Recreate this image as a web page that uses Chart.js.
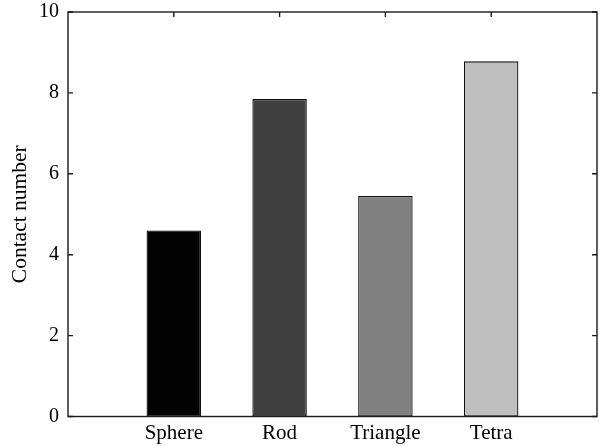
<!DOCTYPE html>
<html>
<head>
<meta charset="utf-8">
<script src="https://cdn.jsdelivr.net/npm/chart.js@4/dist/chart.umd.min.js"></script>
<style>
  html, body { margin: 0; padding: 0; background: #fff; }
  #wrap { width: 605px; height: 447px; }
</style>
</head>
<body>
<div id="wrap"><canvas id="contactChart" width="605" height="447"></canvas></div>
<script>
// shapes along the x axis, padded with an empty slot on each side
var shapes = ['', 'Sphere', 'Rod', 'Triangle', 'Tetra', ''];
var contactNumber = [null, 4.6, 7.85, 5.45, 8.78, null];
var barColors = ['#000000', '#020202', '#404040', '#808080', '#bfbfbf', '#000000'];
var yTicks = [0, 2, 4, 6, 8, 10];

var FONT = 'Liberation Serif, Times New Roman, serif';
var AXIS_COLOR = '#1a1a1a';

// box around the plot with inward tick marks
var boxAxes = {
    id: 'boxAxes',
    afterDatasetsDraw: function(chart) {
        var ctx = chart.ctx;
        var a = chart.chartArea;
        var xs = chart.scales.x, ys = chart.scales.y;
        var len = 5;
        ctx.save();
        ctx.strokeStyle = AXIS_COLOR;
        ctx.lineWidth = 1.4;
        ctx.strokeRect(a.left, a.top, a.right - a.left, a.bottom - a.top);
        ctx.beginPath();
        yTicks.forEach(function(v) {
            var y = ys.getPixelForValue(v);
            ctx.moveTo(a.left, y); ctx.lineTo(a.left + len, y);
            ctx.moveTo(a.right, y); ctx.lineTo(a.right - len, y);
        });
        for (var i = 1; i < shapes.length - 1; i++) {
            var x = xs.getPixelForValue(i);
            ctx.moveTo(x, a.top); ctx.lineTo(x, a.top + len);
        }
        ctx.stroke();
        ctx.restore();
    }
};

var ctx = document.getElementById('contactChart').getContext('2d');
new Chart(ctx, {
    type: 'bar',
    data: {
        labels: shapes,
        datasets: [{
            data: contactNumber,
            backgroundColor: barColors,
            borderColor: '#111',
            borderWidth: 1.3,
            borderSkipped: false,
            barPercentage: 1,
            categoryPercentage: 0.515
        }]
    },
    options: {
        responsive: false,
        animation: false,
        layout: { padding: { top: 12, right: 8, left: 0, bottom: 0 } },
        plugins: {
            legend: { display: false },
            tooltip: { enabled: false }
        },
        scales: {
            x: {
                offset: false,
                grid: { display: false, drawTicks: false, offset: false },
                border: { display: false },
                ticks: {
                    color: '#000',
                    font: { family: FONT, size: 21 },
                    padding: 4,
                    maxRotation: 0,
                    autoSkip: false
                },
                afterFit: function(s) {
                    s.height = 30.5;
                    s.paddingLeft = 0;
                    s.paddingRight = 0;
                }
            },
            y: {
                min: 0,
                max: 10,
                grid: { display: false, drawTicks: false },
                border: { display: false },
                ticks: {
                    stepSize: 2,
                    color: '#000',
                    font: { family: FONT, size: 20 },
                    padding: 9
                },
                title: {
                    display: true,
                    text: 'Contact number',
                    color: '#000',
                    font: { family: FONT, size: 21.5 },
                    padding: { top: 7, bottom: 0 }
                },
                afterFit: function(s) {
                    s.width = 68;
                    s.paddingTop = 0;
                    s.paddingBottom = 0;
                }
            }
        }
    },
    plugins: [boxAxes]
});
</script>
</body>
</html>
